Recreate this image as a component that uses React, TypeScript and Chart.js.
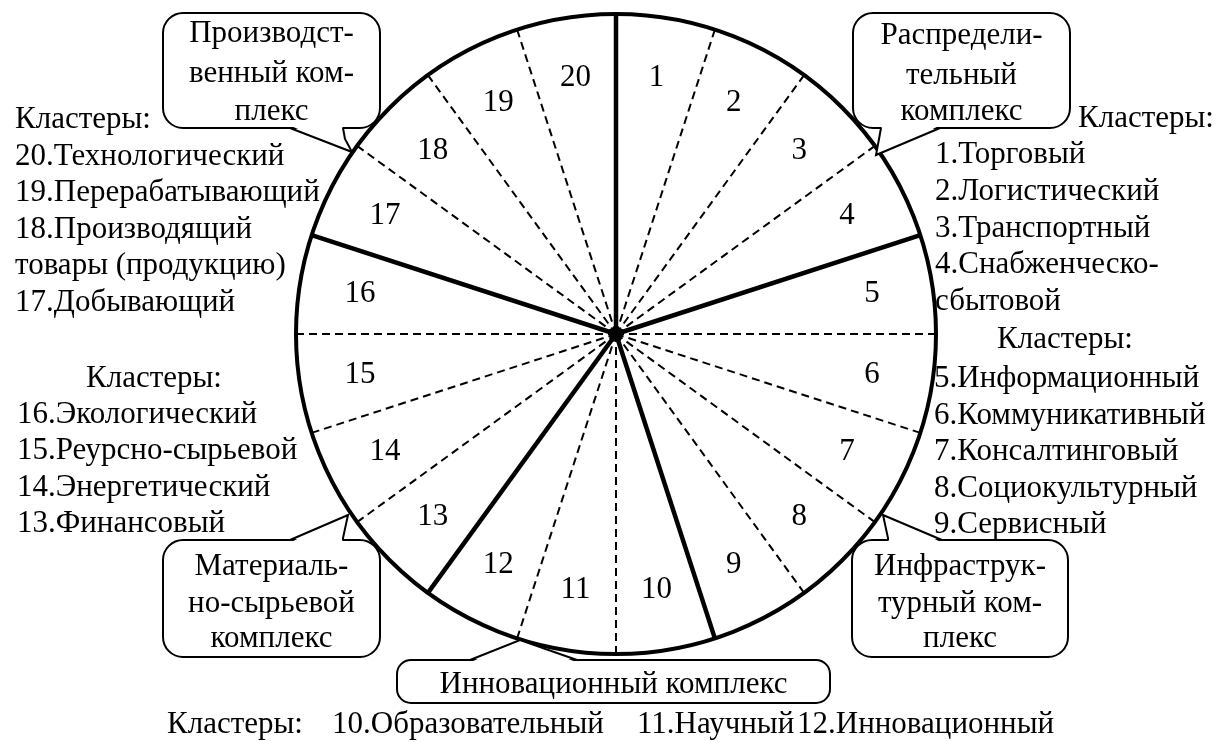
import React, { useEffect, useRef } from "react";
import { Chart, registerables } from "chart.js";

Chart.register(...registerables);

// ---- Data ----
const clusterNumbers = ["1", "2", "3", "4", "5", "6", "7", "8", "9", "10", "11", "12", "13", "14", "15", "16", "17", "18", "19", "20"];
const clusterShares = [1, 1, 1, 1, 1, 1, 1, 1, 1, 1, 1, 1, 1, 1, 1, 1, 1, 1, 1, 1];
// index of the first cluster of each complex (boundaries drawn as thick lines)
const complexStartIndices = [0, 4, 9, 12, 16];

const distributionCallout = ["Распредели-", "тельный", "комплекс"];
const productionCallout = ["Производст-", "венный ком-", "плекс"];
const materialCallout = ["Материаль-", "но-сырьевой", "комплекс"];
const infraCallout = ["Инфраструк-", "турный ком-", "плекс"];
const innovationCallout = ["Инновационный комплекс"];

const clustersTitle = "Кластеры:";
const productionClusters = ["20.Технологический", "19.Перерабатывающий", "18.Производящий", "товары (продукцию)", "17.Добывающий"];
const materialClusters = ["16.Экологический", "15.Реурсно-сырьевой", "14.Энергетический", "13.Финансовый"];
const distributionClusters = ["1.Торговый", "2.Логистический", "3.Транспортный", "4.Снабженческо-", "сбытовой"];
const infraClusters = ["5.Информационный", "6.Коммуникативный", "7.Консалтинговый", "8.Социокультурный", "9.Сервисный"];
const innovationClusters = ["10.Образовательный", "11.Научный", "12.Инновационный"];

// ---- Styles ----
const FONT = "'Liberation Serif', 'Times New Roman', serif";
const TEXT_SIZE = 31;
const NUMBER_SIZE = 31;

type Pt = [number, number];

function drawCallout(
  ctx: CanvasRenderingContext2D,
  x: number, y: number, w: number, h: number, r: number,
  tail: Pt[], edgeY: number, inward: number,
  lines: string[], baselines: number[]
) {
  ctx.save();
  ctx.setLineDash([]);
  ctx.lineWidth = 2;
  ctx.strokeStyle = "#000";
  ctx.fillStyle = "#fff";
  ctx.beginPath();
  ctx.roundRect(x, y, w, h, r);
  ctx.fill();
  ctx.stroke();
  // tail: erase the edge under it, then stroke its sides
  ctx.beginPath();
  const first = tail[0];
  const last = tail[tail.length - 1];
  ctx.moveTo(first[0] + 1, edgeY + inward);
  for (let i = 1; i < tail.length - 1; i++) ctx.lineTo(tail[i][0], tail[i][1]);
  ctx.lineTo(last[0] - 1, edgeY + inward);
  ctx.closePath();
  ctx.fill();
  ctx.beginPath();
  ctx.moveTo(first[0], first[1]);
  for (let i = 1; i < tail.length; i++) ctx.lineTo(tail[i][0], tail[i][1]);
  ctx.stroke();
  ctx.fillStyle = "#000";
  ctx.font = `${TEXT_SIZE}px ${FONT}`;
  ctx.textAlign = "center";
  ctx.textBaseline = "alphabetic";
  lines.forEach((t, i) => ctx.fillText(t, x + w / 2, baselines[i]));
  ctx.restore();
}

function drawList(ctx: CanvasRenderingContext2D, items: string[], x: number, firstBaseline: number, step: number) {
  items.forEach((t, i) => ctx.fillText(t, x, firstBaseline + i * step));
}

const wheelPlugin = {
  id: "clusterWheel",
  afterDatasetsDraw(chart: any) {
    const ctx: CanvasRenderingContext2D = chart.ctx;
    const arcs = chart.getDatasetMeta(0).data;
    if (!arcs.length) return;
    const p0 = arcs[0].getProps(["x", "y", "outerRadius"], true);
    const cx = p0.x, cy = p0.y, R = p0.outerRadius;
    ctx.save();
    ctx.strokeStyle = "#000";
    ctx.lineCap = "butt";
    // dashed separators
    arcs.forEach((arc: any, i: number) => {
      if (complexStartIndices.includes(i)) return;
      const { startAngle } = arc.getProps(["startAngle"], true);
      ctx.setLineDash([8, 5]);
      ctx.lineWidth = 2;
      ctx.beginPath();
      ctx.moveTo(cx, cy);
      ctx.lineTo(cx + R * Math.cos(startAngle), cy + R * Math.sin(startAngle));
      ctx.stroke();
    });
    // complex boundaries
    ctx.setLineDash([]);
    arcs.forEach((arc: any, i: number) => {
      if (!complexStartIndices.includes(i)) return;
      const { startAngle } = arc.getProps(["startAngle"], true);
      ctx.lineWidth = 4.5;
      ctx.beginPath();
      ctx.moveTo(cx, cy);
      ctx.lineTo(cx + R * Math.cos(startAngle), cy + R * Math.sin(startAngle));
      ctx.stroke();
    });
    ctx.beginPath();
    ctx.arc(cx, cy, 7, 0, Math.PI * 2);
    ctx.fillStyle = "#000";
    ctx.fill();
    // outer circle
    ctx.lineWidth = 4;
    ctx.beginPath();
    ctx.arc(cx, cy, R, 0, Math.PI * 2);
    ctx.stroke();
    // numbers
    ctx.font = `${NUMBER_SIZE}px ${FONT}`;
    ctx.textAlign = "center";
    ctx.textBaseline = "middle";
    arcs.forEach((arc: any, i: number) => {
      const { startAngle, endAngle } = arc.getProps(["startAngle", "endAngle"], true);
      const mid = (startAngle + endAngle) / 2;
      ctx.fillText(clusterNumbers[i], cx + 0.81 * R * Math.cos(mid), cy + 0.81 * R * Math.sin(mid));
    });
    ctx.restore();
  },
  afterDraw(chart: any) {
    const ctx: CanvasRenderingContext2D = chart.ctx;
    ctx.save();
    ctx.fillStyle = "#000";
    ctx.font = `${TEXT_SIZE}px ${FONT}`;
    ctx.textBaseline = "alphabetic";
    ctx.textAlign = "left";

    // left top
    ctx.fillText(clustersTitle, 15, 128);
    drawList(ctx, productionClusters, 15, 165, 36.4);
    // left bottom
    ctx.fillText(clustersTitle, 86, 387);
    drawList(ctx, materialClusters, 17, 423, 36.3);
    // right top
    ctx.fillText(clustersTitle, 1078, 127);
    drawList(ctx, distributionClusters, 935, 163, 36.8);
    // right bottom
    ctx.fillText(clustersTitle, 997, 348);
    drawList(ctx, infraClusters, 934, 387, 36.6);
    // bottom row
    ctx.fillText(clustersTitle, 167, 733);
    ctx.fillText(innovationClusters[0], 332, 733);
    ctx.fillText(innovationClusters[1], 637, 733);
    ctx.fillText(innovationClusters[2], 797, 733);
    ctx.restore();

    drawCallout(ctx, 163, 13, 217, 115, 20,
      [[290, 128], [352, 152], [345, 139], [343, 128]], 128, -2,
      productionCallout, [42, 82, 120]);
    drawCallout(ctx, 853, 13, 217, 115, 20,
      [[881, 128], [879, 139], [876, 155], [940, 128]], 128, -2,
      distributionCallout, [44, 84, 120]);
    drawCallout(ctx, 163, 540, 217, 117, 20,
      [[290, 540], [348, 515], [343, 538], [343, 540]], 540, 2,
      materialCallout, [575, 612, 647]);
    drawCallout(ctx, 852, 540, 216, 117, 20,
      [[888, 540], [888, 538], [883, 515], [942, 540]], 540, 2,
      infraCallout, [575, 612, 647]);
    drawCallout(ctx, 397, 660, 433, 43, 14,
      [[470, 660], [520, 640], [577, 660]], 660, 2,
      innovationCallout, [693]);
  },
};

export default function App() {
  const canvasRef = useRef<HTMLCanvasElement>(null);

  useEffect(() => {
    const canvas = canvasRef.current;
    if (!canvas) return;
    const chart = new Chart(canvas, {
      type: "pie",
      data: {
        labels: clusterNumbers,
        datasets: [
          {
            data: clusterShares,
            backgroundColor: "#ffffff",
            borderWidth: 0,
          },
        ],
      },
      options: {
        responsive: false,
        animation: false,
        events: [],
        layout: { padding: { left: 296, right: 282, top: 14, bottom: 88 } },
        plugins: {
          legend: { display: false },
          tooltip: { enabled: false },
        },
      },
      plugins: [wheelPlugin],
    });
    return () => chart.destroy();
  }, []);

  return (
    <div style={{ position: "fixed", left: 0, top: 0, width: 1218, height: 742, background: "#ffffff" }}>
      <canvas ref={canvasRef} width={1218} height={742} style={{ display: "block", width: 1218, height: 742 }} />
    </div>
  );
}
